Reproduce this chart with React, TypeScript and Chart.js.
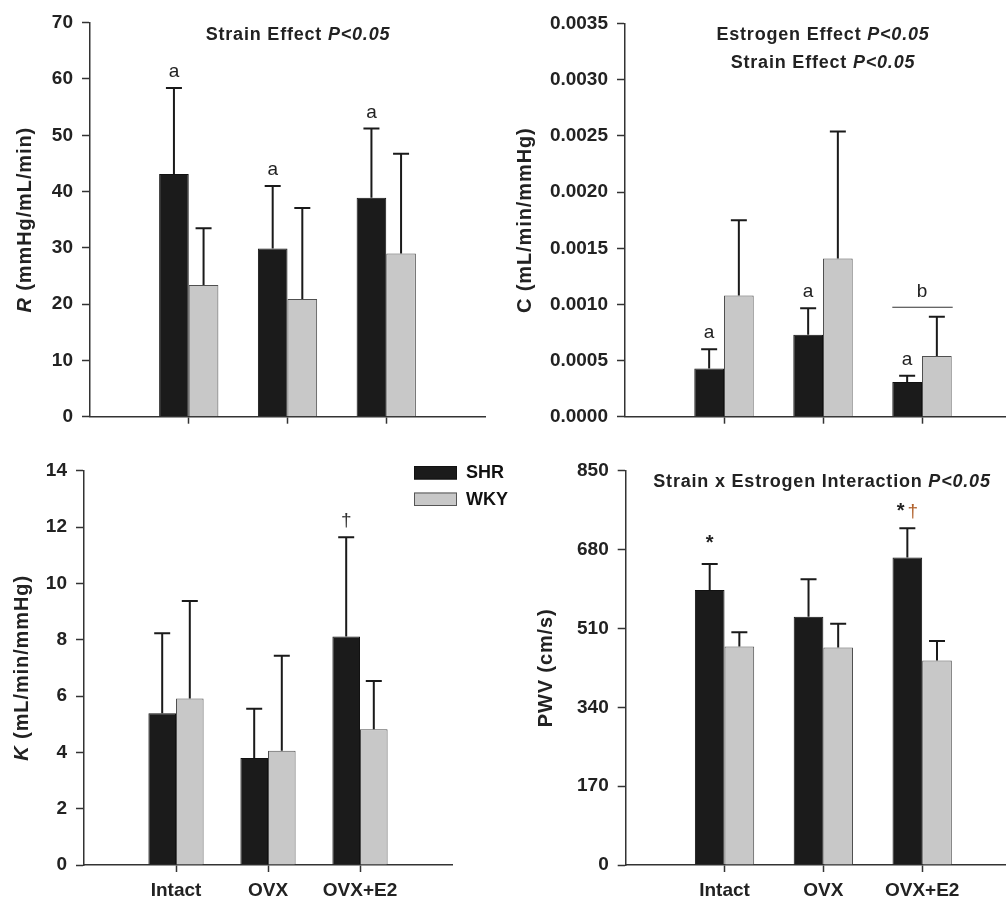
import React, { useEffect, useRef } from 'react';
import { Chart, registerables } from 'chart.js';

Chart.register(...registerables);

const FONT = "'Liberation Sans', Arial, Helvetica, sans-serif";
const INK = '#222222';

const CATEGORIES = ['Intact', 'OVX', 'OVX+E2'];
const SERIES = ['SHR', 'WKY'];
const SERIES_FILL = ['#1b1b1b', '#c8c8c8'];
const SERIES_EDGE = ['#111111', '#505050'];

// Resistance, R
const R_SHR = [43.1, 29.9, 38.9];
const R_SHR_ERR = [15.3, 11.1, 12.3];
const R_WKY = [23.4, 20.9, 29.0];
const R_WKY_ERR = [10.1, 16.2, 17.7];
const R_TICKS = [0, 10, 20, 30, 40, 50, 60, 70];
const R_MARKS_SHR = ['a', 'a', 'a'];
const R_MARKS_WKY = ['', '', ''];

// Compliance, C
const C_SHR = [0.00043, 0.00073, 0.00031];
const C_SHR_ERR = [0.00017, 0.000235, 0.000055];
const C_WKY = [0.00108, 0.00141, 0.00054];
const C_WKY_ERR = [0.00067, 0.00113, 0.00035];
const C_TICKS = [0, 0.0005, 0.001, 0.0015, 0.002, 0.0025, 0.003, 0.0035];
const C_MARKS_SHR = ['a', 'a', 'a'];
const C_MARKS_WKY = ['', '', ''];
const C_GROUP_MARKS = ['', '', 'b'];

// Distensibility, K
const K_SHR = [5.39, 3.8, 8.11];
const K_SHR_ERR = [2.84, 1.75, 3.53];
const K_WKY = [5.91, 4.06, 4.82];
const K_WKY_ERR = [3.46, 3.37, 1.71];
const K_TICKS = [0, 2, 4, 6, 8, 10, 12, 14];
const K_MARKS_SHR = ['', '', '†'];
const K_MARKS_WKY = ['', '', ''];

// Pulse wave velocity
const PWV_SHR = [593, 535, 663];
const PWV_SHR_ERR = [56, 81, 63];
const PWV_WKY = [471, 469, 441];
const PWV_WKY_ERR = [31, 51, 42];
const PWV_TICKS = [0, 170, 340, 510, 680, 850];
const PWV_MARKS_SHR = ['*', '', '*†'];
const PWV_MARKS_WKY = ['', '', ''];

type Seg = { text: string; italic?: boolean; color?: string };

type Panel = {
  id: string;
  box: { left: number; top: number; w: number; h: number };
  plot: { l: number; t: number; r: number; b: number };
  values: number[][];
  errors: number[][];
  marks: string[][];
  groupMarks?: string[];
  ticks: number[];
  tickFmt: (v: number) => string;
  showX: boolean;
  yTitle: Seg[];
  yTitleX: number;
  titles: { segs: Seg[]; y: number }[];
  titleX: number;
  daggerColor: string;
  legend?: boolean;
};

const PANELS: Panel[] = [
  {
    id: 'R',
    box: { left: 0, top: 0, w: 503, h: 440 },
    plot: { l: 90, t: 22.7, r: 485, b: 416.7 },
    values: [R_SHR, R_WKY],
    errors: [R_SHR_ERR, R_WKY_ERR],
    marks: [R_MARKS_SHR, R_MARKS_WKY],
    ticks: R_TICKS,
    tickFmt: (v) => String(v),
    showX: false,
    yTitle: [{ text: 'R', italic: true }, { text: ' (mmHg/mL/min)' }],
    yTitleX: 25,
    titles: [{ segs: [{ text: 'Strain Effect ' }, { text: 'P<0.05', italic: true }], y: 35 }],
    titleX: 298,
    daggerColor: INK,
  },
  {
    id: 'C',
    box: { left: 503, top: 0, w: 530, h: 440 },
    plot: { l: 122, t: 23.7, r: 518, b: 416.7 },
    values: [C_SHR, C_WKY],
    errors: [C_SHR_ERR, C_WKY_ERR],
    marks: [C_MARKS_SHR, C_MARKS_WKY],
    groupMarks: C_GROUP_MARKS,
    ticks: C_TICKS,
    tickFmt: (v) => v.toFixed(4),
    showX: false,
    yTitle: [{ text: 'C (mL/min/mmHg)' }],
    yTitleX: 22,
    titles: [
      { segs: [{ text: 'Estrogen Effect ' }, { text: 'P<0.05', italic: true }], y: 35 },
      { segs: [{ text: 'Strain Effect ' }, { text: 'P<0.05', italic: true }], y: 62.7 },
    ],
    titleX: 320,
    daggerColor: INK,
  },
  {
    id: 'K',
    box: { left: 0, top: 440, w: 560, h: 461 },
    plot: { l: 84, t: 30.7, r: 452, b: 425 },
    values: [K_SHR, K_WKY],
    errors: [K_SHR_ERR, K_WKY_ERR],
    marks: [K_MARKS_SHR, K_MARKS_WKY],
    ticks: K_TICKS,
    tickFmt: (v) => String(v),
    showX: true,
    yTitle: [{ text: 'K', italic: true }, { text: ' (mL/min/mmHg)' }],
    yTitleX: 22,
    titles: [],
    titleX: 0,
    daggerColor: '#333333',
    legend: true,
  },
  {
    id: 'PWV',
    box: { left: 503, top: 440, w: 530, h: 461 },
    plot: { l: 122.7, t: 30.7, r: 518, b: 425 },
    values: [PWV_SHR, PWV_WKY],
    errors: [PWV_SHR_ERR, PWV_WKY_ERR],
    marks: [PWV_MARKS_SHR, PWV_MARKS_WKY],
    ticks: PWV_TICKS,
    tickFmt: (v) => String(v),
    showX: true,
    yTitle: [{ text: 'PWV (cm/s)' }],
    yTitleX: 43.7,
    titles: [{ segs: [{ text: 'Strain x Estrogen Interaction ' }, { text: 'P<0.05', italic: true }], y: 41.7 }],
    titleX: 319,
    daggerColor: '#b0602a',
  },
];

function drawRich(ctx: CanvasRenderingContext2D, segs: Seg[], cx: number, cy: number, size: number, spacing: number) {
  ctx.save();
  (ctx as any).letterSpacing = spacing + 'px';
  ctx.textBaseline = 'middle';
  ctx.textAlign = 'left';
  const fonts = segs.map((s) => `${s.italic ? 'italic ' : ''}bold ${size}px ${FONT}`);
  const widths = segs.map((s, i) => {
    ctx.font = fonts[i];
    return ctx.measureText(s.text).width;
  });
  const total = widths.reduce((a, b) => a + b, 0);
  let x = cx - total / 2;
  segs.forEach((s, i) => {
    ctx.font = fonts[i];
    ctx.fillStyle = s.color || INK;
    ctx.fillText(s.text, x, cy);
    x += widths[i];
  });
  ctx.restore();
}

// Draws a mark such as "a", "*" or "*†" centred on x with its baseline at y.
function drawMark(ctx: CanvasRenderingContext2D, mark: string, x: number, y: number, daggerColor: string) {
  const parts = mark.split('').map((ch) => ({
    ch,
    font: ch === '*' ? `bold 20px ${FONT}` : `19px ${FONT}`,
    color: ch === '†' ? daggerColor : INK,
  }));
  const gap = 3;
  const widths = parts.map((p) => {
    ctx.font = p.font;
    return ctx.measureText(p.ch).width;
  });
  const total = widths.reduce((a, b) => a + b, 0) + gap * (parts.length - 1);
  let cx = x - total / 2;
  ctx.textAlign = 'left';
  ctx.textBaseline = 'alphabetic';
  parts.forEach((p, i) => {
    ctx.font = p.font;
    ctx.fillStyle = p.color;
    ctx.fillText(p.ch, cx, y);
    cx += widths[i] + gap;
  });
}

function makeExtras(panel: Panel) {
  return {
    id: 'panelExtras' + panel.id,
    afterDatasetsDraw(chart: any) {
      const ctx: CanvasRenderingContext2D = chart.ctx;
      const ys = chart.scales.y;
      const xs = chart.scales.x;
      const caps: number[][] = [];
      ctx.save();
      // error bars (upper only)
      panel.errors.forEach((errs, d) => {
        const meta = chart.getDatasetMeta(d);
        caps[d] = [];
        meta.data.forEach((bar: any, i: number) => {
          const v = panel.values[d][i];
          const top = ys.getPixelForValue(v + errs[i]);
          caps[d][i] = top;
          ctx.strokeStyle = '#1a1a1a';
          ctx.lineWidth = 2;
          ctx.beginPath();
          ctx.moveTo(bar.x, bar.y);
          ctx.lineTo(bar.x, top);
          ctx.moveTo(bar.x - 8, top);
          ctx.lineTo(bar.x + 8, top);
          ctx.stroke();
        });
      });
      // significance marks above bars
      panel.marks.forEach((row, d) => {
        const meta = chart.getDatasetMeta(d);
        row.forEach((m, i) => {
          if (!m) return;
          const lift = m === '*' ? 15 : 11;
          drawMark(ctx, m, meta.data[i].x, caps[d][i] - lift, panel.daggerColor);
        });
      });
      // group marks with a bar spanning both columns
      if (panel.groupMarks) {
        panel.groupMarks.forEach((m, i) => {
          if (!m) return;
          const b0: any = chart.getDatasetMeta(0).data[i];
          const b1: any = chart.getDatasetMeta(1).data[i];
          const left = b0.x - b0.width / 2;
          const right = b1.x + b1.width / 2;
          const lineY = Math.min(caps[0][i], caps[1][i]) - 9.5;
          ctx.strokeStyle = '#333';
          ctx.lineWidth = 1.2;
          ctx.beginPath();
          ctx.moveTo(left, lineY);
          ctx.lineTo(right + 1, lineY);
          ctx.stroke();
          drawMark(ctx, m, xs.getPixelForValue(i), lineY - 10.5, panel.daggerColor);
        });
      }
      // panel titles
      panel.titles.forEach((t) => drawRich(ctx, t.segs, panel.titleX, t.y, 18, 0.8));
      // y-axis title
      const area = chart.chartArea;
      ctx.save();
      ctx.translate(panel.yTitleX, (area.top + area.bottom) / 2);
      ctx.rotate(-Math.PI / 2);
      drawRich(ctx, panel.yTitle, 0, 0, 20, 0.9);
      ctx.restore();
      // legend
      if (panel.legend) {
        const rows = [26, 52.5];
        SERIES.forEach((name, d) => {
          ctx.fillStyle = SERIES_FILL[d];
          ctx.fillRect(414, rows[d], 43, 13.5);
          ctx.strokeStyle = d === 0 ? '#111' : '#555';
          ctx.lineWidth = 1;
          ctx.strokeRect(414.5, rows[d] + 0.5, 42, 12.5);
          ctx.font = `bold 18px ${FONT}`;
          ctx.fillStyle = '#111';
          ctx.textAlign = 'left';
          ctx.textBaseline = 'middle';
          ctx.fillText(name, 466, rows[d] + 7.5);
        });
      }
      ctx.restore();
    },
  };
}

function PanelChart({ panel }: { panel: Panel }) {
  const ref = useRef<HTMLCanvasElement | null>(null);
  useEffect(() => {
    const canvas = ref.current;
    if (!canvas) return;
    const { box, plot } = panel;
    const tickFont = { family: FONT, size: 19, weight: 'bold' as const };
    const chart = new Chart(canvas, {
      type: 'bar',
      data: {
        datasets: SERIES.map((name, d) => ({
          label: name,
          data: CATEGORIES.map((_, i) => ({ x: i, y: panel.values[d][i] })),
          backgroundColor: SERIES_FILL[d],
          borderColor: SERIES_EDGE[d],
          borderWidth: 1,
          categoryPercentage: 0.6,
          barPercentage: 1,
        })),
      },
      options: {
        responsive: false,
        animation: false,
        devicePixelRatio: 1,
        layout: { padding: { left: 0, top: plot.t, right: box.w - plot.r, bottom: 0 } },
        plugins: { legend: { display: false }, tooltip: { enabled: false } },
        scales: {
          x: {
            type: 'linear',
            min: -1,
            max: 3,
            offset: false,
            afterBuildTicks: (s: any) => {
              s.ticks = CATEGORIES.map((_, i) => ({ value: i }));
            },
            afterFit: (s: any) => {
              s.height = box.h - plot.b;
            },
            ticks: {
              display: panel.showX,
              autoSkip: false,
              maxRotation: 0,
              padding: 7,
              font: tickFont,
              color: INK,
              callback: (v: any) => CATEGORIES[Number(v)] ?? '',
            },
            grid: {
              offset: false,
              drawOnChartArea: false,
              drawTicks: true,
              tickLength: 7,
              tickColor: '#333',
              tickWidth: 1.5,
            },
            border: { display: true, color: '#333', width: 1.5 },
          },
          y: {
            type: 'linear',
            min: panel.ticks[0],
            max: panel.ticks[panel.ticks.length - 1],
            afterBuildTicks: (s: any) => {
              s.ticks = panel.ticks.map((v) => ({ value: v }));
            },
            afterFit: (s: any) => {
              s.width = plot.l;
            },
            ticks: {
              padding: 9,
              font: tickFont,
              color: INK,
              callback: (v: any) => panel.tickFmt(Number(v)),
            },
            grid: { drawOnChartArea: false, drawTicks: true, tickLength: 8, tickColor: '#333', tickWidth: 1.5 },
            border: { display: true, color: '#333', width: 1.5 },
          },
        },
      },
      plugins: [makeExtras(panel)],
    } as any);
    return () => chart.destroy();
  }, [panel]);
  const { box } = panel;
  return (
    <canvas
      ref={ref}
      width={box.w}
      height={box.h}
      style={{ position: 'absolute', left: box.left, top: box.top, width: box.w, height: box.h }}
    />
  );
}

export default function App() {
  return (
    <div
      style={{
        position: 'fixed',
        left: 0,
        top: 0,
        width: 1006,
        height: 901,
        overflow: 'hidden',
        background: '#ffffff',
      }}
    >
      {PANELS.map((p) => (
        <PanelChart key={p.id} panel={p} />
      ))}
    </div>
  );
}
